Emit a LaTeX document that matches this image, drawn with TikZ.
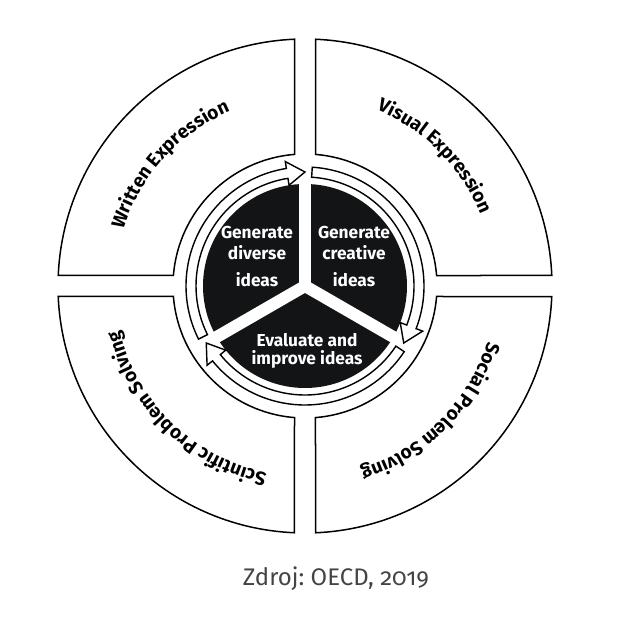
\documentclass[tikz,border=0pt]{standalone}
\usepackage{fontspec}
\setmainfont{Fira Sans}
\newfontfamily\capfont[Numbers=OldStyle]{Fira Sans}
\usetikzlibrary{decorations.text}
\definecolor{discblack}{HTML}{131415}
\definecolor{capgray}{HTML}{444444}
\newcommand\qfont{\bfseries\fontsize{19}{21}\selectfont}
\newcommand\dfont{\bfseries\fontsize{17.3}{20}\selectfont}
\frenchspacing
\begin{document}
\begin{tikzpicture}[x=1pt,y=1pt,
  quad/.style={draw=black, line width=1.5pt, fill=white, line join=miter},
  ringarrow/.style={draw=black, line width=1.4pt, fill=white, line join=miter},
  bar/.style={draw=white, line width=12pt},
  dtext/.style={text=white, font=\dfont, anchor=base, inner sep=0pt},
  qlabel/.style={decorate, decoration={text along path, text align=center, text={|\qfont|#1}}},
]
\useasboundingbox (-305,-334) rectangle (315,286);
\coordinate (c) at (0,0);
% quadrants
\foreach \r in {0,90,180,270}{
  \draw[quad, rotate=\r] (-10.5,246.78) arc[start angle=92.44, end angle=177.56, radius=247]
    -- (-131.58,10.5) arc[start angle=175.44, end angle=94.56, radius=132] -- cycle;
}
% disc
\fill[discblack] (c) circle[radius=102];
\foreach \a in {90,210,330}{ \draw[bar] (c) -- (\a:106); }
\fill[white] (c) circle[radius=6];
% ring arrows
\foreach \s/\t in {206.5/90, 86.5/-30, -33.5/-150}{
  \pgfmathsetmacro\b{\t+9}
  \draw[ringarrow] (\s:119) arc[start angle=\s, end angle=\b, radius=119]
    -- (\b:126) -- (\t:114) -- (\b:102) -- (\b:109)
    arc[start angle=\b, end angle=\s, radius=109] -- cycle;
}
% disc texts
\node[dtext] (gd1) at (-48,47) {Generate};
\node[dtext] (gd2) at (-48,26) {diverse};
\node[dtext] (gd3) at (-48,-1) {ideas};
\node[dtext] (gc1) at (49,47) {Generate};
\node[dtext] (gc2) at (49,26) {creative};
\node[dtext] (gc3) at (49,-1) {ideas};
\node[dtext] (ev1) at (2,-61) {Evaluate and};
\node[dtext] (ev2) at (2,-78) {improve ideas};
% quadrant labels
\path[qlabel=Written Expression] (198:190) arc[start angle=198, end angle=78, radius=190];
\path[qlabel=Visual Expression] (105:190) arc[start angle=105, end angle=-15, radius=190];
\path[qlabel=Social Prolem Solving] (15:191) arc[start angle=15, end angle=-105, radius=191];
\path[qlabel=Scintific Problem Solving] (-74:191) arc[start angle=-74, end angle=-194, radius=191];
% caption
\node[font=\capfont\fontsize{24}{28}\selectfont, text=capgray, anchor=base, inner sep=0pt] (cap) at (31,-299) {Zdroj: OECD, 2019};
\end{tikzpicture}
\end{document}
